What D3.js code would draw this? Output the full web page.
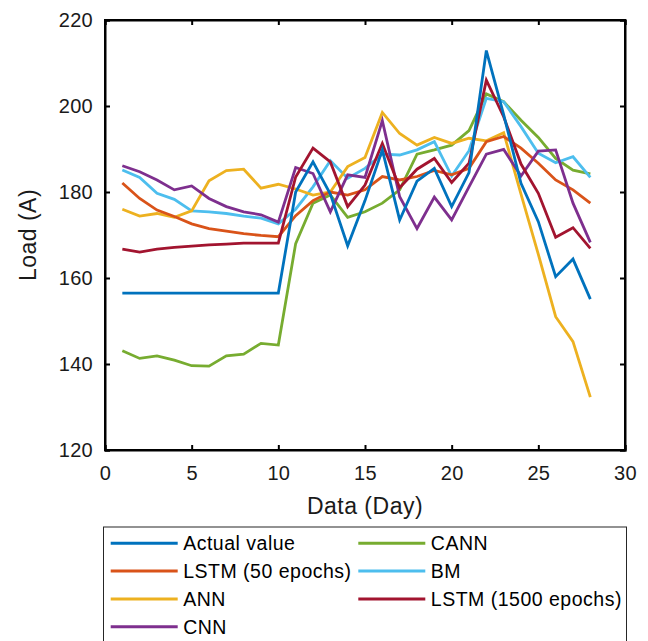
<!DOCTYPE html>
<html><head><meta charset="utf-8">
<script src="https://cdn.jsdelivr.net/npm/d3@7"></script>
<style>body{margin:0;background:#fff}svg{display:block}</style>
</head><body><svg id="c" width="648" height="641"></svg>
<script>
const days = d3.range(1, 29);
const actualValue = [156.5,156.5,156.5,156.5,156.5,156.5,156.5,156.5,156.5,156.5,180,187,179.5,167.5,178,189.8,173.5,182.5,185.5,176.6,184.5,212.9,198,182,173.1,160.3,164.4,155.1];
const lstm50 = [182.1,178.5,175.8,174.3,172.6,171.5,170.9,170.3,169.9,169.6,174.5,178,180,179.3,180.5,183.6,182.8,183.6,185,184,185.5,191.7,192.9,190.2,186.7,182.8,180.5,177.4];
const ann = [176,174.4,175,174.1,175.6,182.6,185,185.3,180.9,181.8,180.7,179.3,180,185.9,188,198.5,193.6,190.9,192.7,191.3,192.5,191.9,193.8,179.5,165.5,151,145.2,132.3];
const cnn = [186.1,184.7,182.8,180.5,181.4,178.5,176.6,175.4,174.7,173,185.7,184.3,175.4,184,183.4,196.6,178.9,171.5,178.8,173.5,181.2,188.8,189.9,183.7,189.5,189.8,177.4,168.3];
const cann = [143.1,141.3,141.9,140.9,139.6,139.5,141.9,142.3,144.8,144.4,168,177.4,179.3,174.1,175.4,177.4,180.5,188.8,189.8,190.9,194.3,202.8,201,196.7,192.7,187.8,185.1,184.2];
const bm = [185.1,183.4,179.7,178.3,175.6,175.4,175,174.4,173.9,172.6,176,181.2,187.3,183.2,185.5,188.8,188.6,189.8,191.7,183.7,189.6,201.8,201,195.2,189,186.8,188.2,183.4];
const lstm1500 = [166.7,166,166.7,167.1,167.4,167.7,167.9,168.1,168.1,168.1,183.5,190.2,187,176.6,181.6,191.3,181,185.3,187.8,182.2,186.7,206,197.5,186.5,179.7,169.5,171.7,166.9];

const seriesNames = ["Actual value","LSTM (50 epochs)","ANN","CNN","CANN","BM","LSTM (1500 epochs)"];
const seriesValues = [actualValue, lstm50, ann, cnn, cann, bm, lstm1500];
const colors = ["#0072BD","#D95319","#EDB120","#7E2F8E","#77AC30","#4DBEEE","#A2142F"];
const xTicks = [0,5,10,15,20,25,30];
const yTicks = [120,140,160,180,200,220];
const drawOrder = [4,5,2,1,3,6,0];
const legendOrder = [0,1,2,3,4,5,6];

const svg = d3.select("#c");
const L=105, R=625, T=20, B=450;
const x = d3.scaleLinear().domain([0,30]).range([L,R]);
const y = d3.scaleLinear().domain([120,220]).range([B,T]);
const font = "Arial, 'Liberation Sans', sans-serif";

const line = d3.line().x((d,i)=>x(days[i])).y(d=>y(d));
const g = svg.append("g");
drawOrder.forEach(k=>{
  g.append("path").attr("d", line(seriesValues[k])).attr("fill","none")
   .attr("stroke", colors[k]).attr("stroke-width",2.8).attr("stroke-linejoin","miter");
});

const ax = svg.append("g").attr("font-family",font);
const xb = d3.axisBottom(x).tickValues(xTicks).tickSize(-5).tickPadding(16).tickFormat(d3.format("d"));
const yl = d3.axisLeft(y).tickValues(yTicks).tickSize(-5).tickPadding(12).tickFormat(d3.format("d"));
const xt = d3.axisTop(x).tickValues(xTicks).tickSize(-5).tickFormat("");
const yr = d3.axisRight(y).tickValues(yTicks).tickSize(-5).tickFormat("");
[[xb,`translate(0,${B})`],[yl,`translate(${L},0)`],[xt,`translate(0,${T})`],[yr,`translate(${R},0)`]].forEach(([a,t])=>{
  const gg = ax.append("g").attr("transform",t).call(a);
  gg.select(".domain").attr("stroke","#000").attr("stroke-width",2);
  gg.selectAll(".tick line").attr("stroke","#000").attr("stroke-width",2);
  gg.selectAll(".tick text").attr("font-size",20).attr("fill","#1a1a1a").attr("font-family",font).attr("letter-spacing",0.3);
});
ax.append("rect").attr("x",L).attr("y",T).attr("width",R-L).attr("height",B-T)
  .attr("fill","none").attr("stroke","#000").attr("stroke-width",2);

svg.append("text").attr("x",(L+R)/2).attr("y",514).attr("text-anchor","middle")
  .attr("font-family",font).attr("font-size",23).attr("letter-spacing",0.5).attr("fill","#1a1a1a").text("Data (Day)");
svg.append("text").attr("transform",`translate(36,${(T+B)/2}) rotate(-90)`).attr("text-anchor","middle")
  .attr("font-family",font).attr("font-size",23).attr("letter-spacing",0.5).attr("fill","#1a1a1a").text("Load (A)");

const lg = svg.append("g").attr("font-family",font);
lg.append("rect").attr("x",103.5).attr("y",527).attr("width",523).attr("height",130)
  .attr("fill","#fff").attr("stroke","#262626").attr("stroke-width",1);
const colX = [110.7, 358.3], rowY0 = 543.2, rowDy = 27.85, lineLen = 67;
legendOrder.forEach((k,i)=>{
  const col = i < 4 ? 0 : 1;
  const row = i < 4 ? i : i-4;
  const yy = rowY0 + row*rowDy;
  lg.append("line").attr("x1",colX[col]).attr("x2",colX[col]+lineLen).attr("y1",yy).attr("y2",yy)
    .attr("stroke",colors[k]).attr("stroke-width",3);
  lg.append("text").attr("x",colX[col]+lineLen+5.5).attr("y",yy).attr("dy","0.36em")
    .attr("font-size",19.5).attr("letter-spacing",0.5).attr("fill","#000").text(seriesNames[k]);
});
</script></body></html>
